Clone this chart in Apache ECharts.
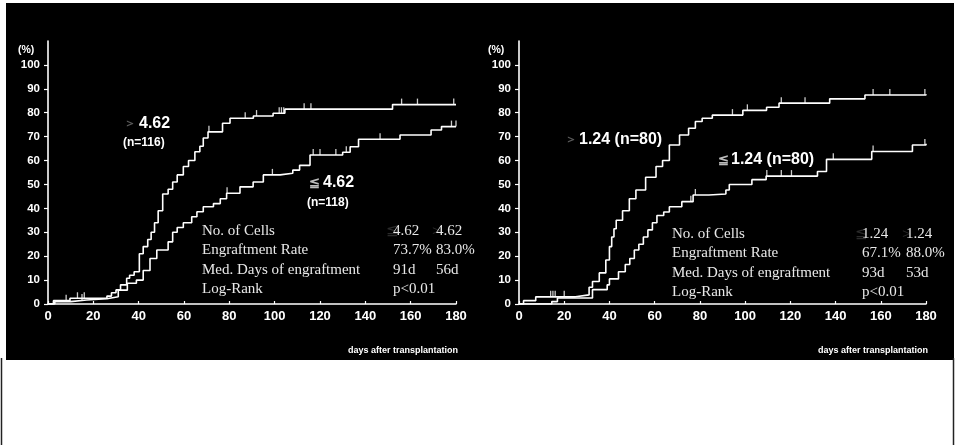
<!DOCTYPE html>
<html>
<head>
<meta charset="utf-8">
<script src="https://cdn.jsdelivr.net/npm/echarts@6/dist/echarts.min.js"></script>
<style>
html,body{margin:0;padding:0;background:#fff;}
#c{width:956px;height:445px;}
</style>
</head>
<body>
<div id="c"></div>
<script>
// ---------- data ----------
const xTicks = [0, 20, 40, 60, 80, 100, 120, 140, 160, 180];
const yTicks = [0, 10, 20, 30, 40, 50, 60, 70, 80, 90, 100];

// Left panel: CD34+ cell dose cut-off 4.62
const leftHiDays = [0, 2.4, 9.7, 26, 28, 30, 32, 34.7, 36, 38, 40.3, 42, 44, 45.5, 47, 48.6, 50.6, 53, 55, 57, 59.7, 62, 64.8, 67, 68.5, 70.6, 77, 80.3, 90.6, 99.3, 104.5, 152, 180];
const leftHiPct  = [0, 1.4, 2.4, 3.3, 4.7, 5.9, 8, 10.8, 12, 13.5, 21, 24, 27, 30, 34, 39, 46, 48, 51, 54, 57.5, 60, 63.7, 66, 69.4, 72, 75.6, 77.7, 78.6, 79.8, 81.5, 83.4, 83.4];
const leftHiCensor = [8, 13, 16, 71, 87, 92, 102, 103, 104, 113, 116, 156, 163, 179];

const leftLoDays = [0, 3, 10, 17, 26, 31, 35, 39, 42, 45, 48, 53, 55, 57, 59.7, 63.4, 65.7, 68.5, 73, 76, 78.8, 84.7, 90.5, 95, 102.4, 108, 111, 115.6, 130, 133.3, 137, 155.3, 169, 173.6, 180];
const leftLoPct  = [0, 1, 1.7, 2.2, 3, 5.8, 8.7, 10, 14, 19, 22.6, 26, 30, 32, 34, 36.5, 38.6, 40.7, 42, 44, 46.3, 49, 51, 54, 54.7, 56, 58, 62.3, 63.5, 65.8, 68.9, 70.7, 72.8, 74.2, 74.2];
const leftLoCensor = [15, 79, 99, 117, 120, 127, 131.6, 146.5, 178, 180];

// Right panel: cut-off 1.24
const rightHiDays = [0, 2, 7.4, 25, 31, 32.5, 35.5, 38.4, 40, 41, 42, 43, 45.8, 48.8, 51.7, 56, 60.6, 63.5, 66.5, 71, 75, 78, 81, 85.5, 99, 109.5, 115, 137.4, 153, 180];
const rightHiPct  = [0, 1.4, 3, 3.8, 7, 9.4, 13, 18.4, 24, 28, 31.5, 35, 39, 44, 47.7, 53, 57.5, 60, 66.5, 70.7, 73.5, 76.3, 77.7, 79, 81, 82.3, 84, 85.8, 87.4, 87.7];
const rightHiCensor = [14, 15, 16, 20, 94.4, 101, 116, 126.5, 156.6, 164, 179.5];

const rightLoDays = [0, 14.5, 17, 32.5, 39, 40, 44, 47, 49, 51, 53, 55, 57, 59, 61, 64, 66.5, 72, 77, 84, 91.5, 93, 103, 109.3, 132, 136, 156, 174, 180];
const rightLoPct  = [0, 1, 2.5, 6, 8, 10.5, 13.5, 16.5, 19, 22.6, 25, 28, 31, 34, 37, 38.5, 40.7, 42.8, 45.6, 46, 47.7, 50, 52, 53.5, 55.4, 60.5, 63.8, 66.5, 67];
const rightLoCensor = [76, 78, 109.6, 116, 120.5, 139, 156.6, 179.5];

// text
const tableLabels = ['No. of Cells', 'Engraftment Rate', 'Med. Days of engraftment', 'Log-Rank'];
const leftCut = '4.62';
const leftRates = ['73.7%', '83.0%'];
const leftMedDays = ['91d', '56d'];
const rightCut = '1.24';
const rightRates = ['67.1%', '88.0%'];
const rightMedDays = ['93d', '53d'];
const pText = 'p<0.01';
const xName = 'days after transplantation';

// ---------- helpers ----------
function pairs(d, v) { return d.map((x, i) => [x, v[i]]); }
function stepAt(d, v, x) {
  let val = v[0];
  for (let i = 0; i < d.length; i++) { if (d[i] <= x) val = v[i]; }
  return val;
}
function censor(d, v, c) { return c.map(x => [x, stepAt(d, v, x)]); }

const W = '#ffffff';

function xAxisDef(gi) {
  return {
    gridIndex: gi, type: 'value', min: 0, max: 180, interval: 20,
    axisLine: { lineStyle: { color: W, width: 1.6 } },
    axisTick: { inside: true, length: 3, lineStyle: { color: W, width: 1.2 } },
    axisLabel: { color: W, fontFamily: '"Liberation Sans", Arial, sans-serif', fontWeight: 'bold', fontSize: 13, margin: 6,
      customValues: xTicks },
    splitLine: { show: false }
  };
}
function yAxisDef(gi) {
  return {
    gridIndex: gi, type: 'value', min: 0, max: 110,
    axisLine: { show: true, onZero: false, lineStyle: { color: W, width: 1.6 } },
    axisTick: { show: true, length: 4, customValues: yTicks, lineStyle: { color: W, width: 1.2 } },
    axisLabel: { color: W, fontFamily: '"Liberation Sans", Arial, sans-serif', fontWeight: 'bold', fontSize: 11.5, margin: 8,
      customValues: yTicks },
    splitLine: { show: false }
  };
}
function kmLine(gi, d, v) {
  return { type: 'line', xAxisIndex: gi, yAxisIndex: gi, data: pairs(d, v), step: 'end',
    showSymbol: false, symbol: 'none', lineStyle: { color: W, width: 1.6 }, z: 5 };
}
function kmCensor(gi, d, v, c) {
  return { type: 'scatter', xAxisIndex: gi, yAxisIndex: gi, data: censor(d, v, c),
    symbol: 'rect', symbolSize: [1.3, 6], symbolOffset: [0, -3],
    itemStyle: { color: W }, z: 6 };
}
function txt(x, y, text, font, color, align) {
  return { type: 'text', z: 10, style: { x: x, y: y, text: text, font: font,
    fill: color || W, textAlign: align || 'left', textVerticalAlign: 'middle' } };
}

const boldF = s => 'bold ' + s + 'px "Liberation Sans", Arial, sans-serif';
const serifF = '15px "Liberation Serif", "Times New Roman", serif';
const tc = '#e8e8e8';
const faint = '#5a5a5a';
const faintT = '#2a2a2a';

function table(lx, vx1, vx2, y0, cut, rates, med) {
  const g = [];
  const dy = 19.3;
  tableLabels.forEach((t, i) => g.push(txt(lx, y0 + i * dy, t, serifF, tc)));
  g.push(txt(vx1 - 7, y0, '≦', serifF, faintT));
  g.push(txt(vx1, y0, cut, serifF, tc));
  g.push(txt(vx2 - 7, y0, '＞', serifF, faintT));
  g.push(txt(vx2, y0, cut, serifF, tc));
  g.push(txt(vx1, y0 + dy, rates[0], serifF, tc));
  g.push(txt(vx2, y0 + dy, rates[1], serifF, tc));
  g.push(txt(vx1, y0 + 2 * dy, med[0], serifF, tc));
  g.push(txt(vx2, y0 + 2 * dy, med[1], serifF, tc));
  g.push(txt(vx1, y0 + 3 * dy, pText, serifF, tc));
  return g;
}

const graphics = [
  { type: 'rect', z: -10, shape: { x: 6, y: 3, width: 948, height: 357 }, style: { fill: '#000' } },
  { type: 'line', z: -10, shape: { x1: 1.5, y1: 358, x2: 1.5, y2: 445 }, style: { stroke: '#222', lineWidth: 1.5 } },
  { type: 'line', z: -10, shape: { x1: 953.5, y1: 358, x2: 953.5, y2: 445 }, style: { stroke: '#222', lineWidth: 1.5 } },
  // left panel
  txt(18, 50, '(%)', boldF(10.5)),
  txt(124, 124, '＞', boldF(12), faint),
  txt(139, 124, leftCut, boldF(16)),
  txt(123, 143, '(n=116)', boldF(12)),
  txt(309, 183, '≦', boldF(13), '#bbbbbb'),
  txt(323, 183, leftCut, boldF(16)),
  txt(307, 203, '(n=118)', boldF(12)),
  txt(458, 351, xName, boldF(9), W, 'right'),
  // right panel
  txt(488, 50, '(%)', boldF(10.5)),
  txt(565, 140, '＞', boldF(12), faint),
  txt(579, 140, rightCut + ' (n=80)', boldF(16)),
  txt(718, 160, '≦', boldF(13), '#bbbbbb'),
  txt(731, 160, rightCut + ' (n=80)', boldF(16)),
  txt(928, 351, xName, boldF(9), W, 'right')
].concat(table(202, 393, 436, 231, leftCut, leftRates, leftMedDays))
 .concat(table(672, 862, 906, 234, rightCut, rightRates, rightMedDays));

const option = {
  animation: false,
  backgroundColor: '#ffffff',
  grid: [
    { left: 48, top: 41, width: 408, bottom: 141 },
    { left: 519, top: 41, width: 407, bottom: 141 }
  ],
  xAxis: [xAxisDef(0), xAxisDef(1)],
  yAxis: [yAxisDef(0), yAxisDef(1)],
  series: [
    kmLine(0, leftHiDays, leftHiPct),
    kmLine(0, leftLoDays, leftLoPct),
    kmCensor(0, leftHiDays, leftHiPct, leftHiCensor),
    kmCensor(0, leftLoDays, leftLoPct, leftLoCensor),
    kmLine(1, rightHiDays, rightHiPct),
    kmLine(1, rightLoDays, rightLoPct),
    kmCensor(1, rightHiDays, rightHiPct, rightHiCensor),
    kmCensor(1, rightLoDays, rightLoPct, rightLoCensor)
  ],
  graphic: graphics
};

const chart = echarts.init(document.getElementById('c'), null, { renderer: 'canvas' });
chart.setOption(option);
</script>
</body>
</html>
